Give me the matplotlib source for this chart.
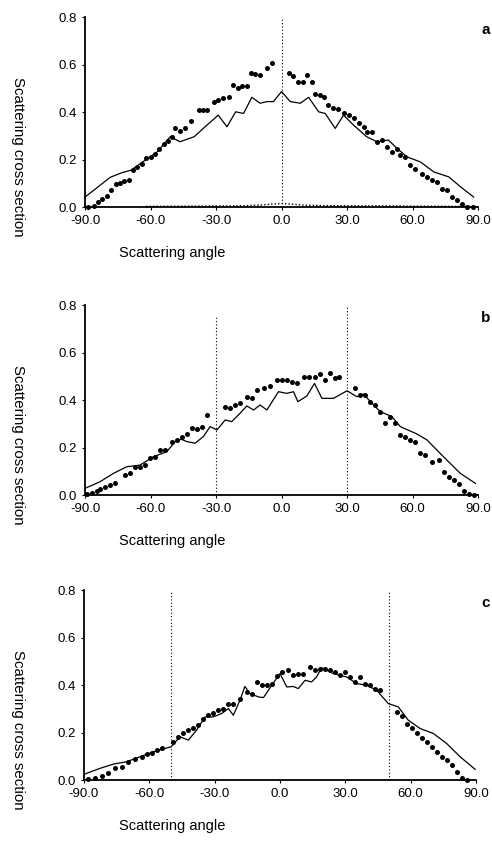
import numpy as np
import matplotlib
matplotlib.use("Agg")
import matplotlib.pyplot as plt

plt.rcParams['font.family'] = ['Liberation Sans', 'DejaVu Sans']

# panel a : calculated curve (solid) and measured points
a_line_x = [-90, -84, -78.5, -73, -69, -62, -57, -51, -46.5, -40, -35, -29, -25, -21, -17.4,
            -13.6, -9.8, -6.7, -3.7, 0, 4, 8.6, 12.4, 17, 20, 24.6, 28.4, 33, 39, 43.7, 49, 53,
            57.5, 63.6, 69.7, 76.6, 82, 88]
a_line_y = [0.042, 0.085, 0.125, 0.145, 0.155, 0.20, 0.232, 0.296, 0.275, 0.296, 0.338, 0.387,
            0.338, 0.401, 0.394, 0.462, 0.437, 0.444, 0.444, 0.486, 0.444, 0.437, 0.462, 0.401,
            0.394, 0.331, 0.387, 0.345, 0.296, 0.275, 0.282, 0.246, 0.211, 0.19, 0.148, 0.127,
            0.085, 0.042]
a_dot_x = [-88.5, -86, -84, -82, -80, -78, -76, -74, -72, -70, -68, -66, -64, -62, -60, -58,
           -56, -54, -52, -50, -48.7, -46.4, -44.2, -41.5, -38, -36, -34, -31, -29, -26.6,
           -24, -22, -20, -18, -16, -14, -12, -10, -6.7, -4.4,
           3.2, 5.2, 7.5, 9.8, 11.6, 13.9, 15.4, 17.4, 19.3, 21.5, 23.8, 26, 28.4, 30.7, 33,
           35.3, 37.6, 39.1, 41.4, 43.7, 46, 48.3, 50.6, 52.9, 54.4, 56.7, 59, 61.3, 64.3,
           66.6, 68.9, 71.2, 73.5, 75.8, 78.1, 80.4, 82.7, 85, 87.5]
a_dot_y = [0.0, 0.005, 0.02, 0.035, 0.045, 0.07, 0.095, 0.10, 0.11, 0.115, 0.155, 0.17, 0.18,
           0.205, 0.21, 0.225, 0.245, 0.265, 0.28, 0.295, 0.334, 0.321, 0.331, 0.363, 0.408,
           0.41, 0.41, 0.444, 0.45, 0.458, 0.462, 0.514, 0.50, 0.51, 0.51, 0.566, 0.56, 0.556,
           0.585, 0.608,
           0.566, 0.55, 0.528, 0.528, 0.556, 0.528, 0.475, 0.472, 0.465, 0.43, 0.415, 0.411,
           0.394, 0.387, 0.373, 0.352, 0.338, 0.317, 0.317, 0.275, 0.282, 0.254, 0.232, 0.246,
           0.218, 0.211, 0.176, 0.162, 0.141, 0.127, 0.113, 0.106, 0.077, 0.07, 0.042, 0.028,
           0.011, 0.0, 0.0]
# weak background curve near zero in panel a
a_base_x = [-62, -40, -20, -10, -5, 0, 5, 10, 20, 40, 60, 80, 88]
a_base_y = [0.003, 0.004, 0.005, 0.008, 0.012, 0.015, 0.012, 0.008, 0.006, 0.005, 0.004, 0.003, 0.002]

# panel b
b_line_x = [-90, -83.1, -77, -70.9, -64.8, -58.7, -52.6, -48, -45.7, -43.4, -39.6, -35.8, -32.7,
            -29.6, -25.8, -22.8, -19, -15.9, -12.8, -9.8, -6.7, -1.4, 2.4, 5.5, 7.5, 11.6, 15.1,
            18.5, 23.8, 30, 34.5, 37.6, 40.7, 45.2, 50.6, 54.4, 62, 66.6, 74.2, 81.9, 88.8]
b_line_y = [0.028, 0.056, 0.091, 0.119, 0.126, 0.161, 0.182, 0.232, 0.234, 0.225, 0.218, 0.246,
            0.288, 0.274, 0.316, 0.309, 0.344, 0.375, 0.358, 0.379, 0.358, 0.435, 0.428, 0.435,
            0.393, 0.417, 0.47, 0.407, 0.407, 0.439, 0.414, 0.425, 0.393, 0.351, 0.33, 0.288,
            0.257, 0.232, 0.161, 0.091, 0.049]
b_dot_x = [-89.2, -87, -84.7, -83.1, -80.8, -78.5, -76.2, -71.7, -69.4, -67, -64.8, -62.5, -60.2,
           -57.9, -55.6, -53.3, -50.3, -48, -45.7, -43.4, -41.1, -38.8, -36.5, -34.2, -25.8,
           -23.5, -21.2, -19, -15.9, -13.6, -11.3, -8.2, -5.2, -2.1, 0.2, 2.4, 4.7, 7, 10.1,
           12.4, 15.4, 17.7, 20, 22.3, 24.6, 26.1, 33.7, 36, 38.3, 40.7, 43, 45.2, 47.5, 49.8,
           52.1, 54.4, 56.7, 59, 61.3, 63.6, 65.9, 68.9, 72, 74.2, 76.5, 78.8, 81.1, 83.4,
           85.7, 88]
b_dot_y = [0.004, 0.01, 0.018, 0.024, 0.032, 0.042, 0.052, 0.084, 0.094, 0.119, 0.119, 0.126,
           0.154, 0.161, 0.189, 0.189, 0.225, 0.232, 0.246, 0.257, 0.281, 0.276, 0.288, 0.337,
           0.372, 0.365, 0.379, 0.386, 0.414, 0.407, 0.442, 0.449, 0.459, 0.484, 0.484, 0.484,
           0.477, 0.47, 0.498, 0.495, 0.498, 0.509, 0.484, 0.515, 0.491, 0.495, 0.449, 0.421,
           0.421, 0.393, 0.379, 0.351, 0.302, 0.33, 0.302, 0.253, 0.246, 0.232, 0.225, 0.178,
           0.168, 0.14, 0.147, 0.098, 0.077, 0.063, 0.046, 0.018, 0.004, 0.0]

# panel c
c_line_x = [-90, -82.7, -76.5, -70.4, -64.3, -58.2, -50, -45.9, -42.1, -38.3, -34.4, -30.6,
            -26.8, -23.7, -21.4, -18.4, -16.1, -13.8, -9.9, -7.6, -3.8, 0, 3.1, 6.1, 8.4, 11.5,
            14.5, 16.8, 19.1, 24.5, 30.6, 35.2, 39.8, 44.4, 49.7, 54.3, 58.9, 64.3, 70.4, 76.5,
            82.7, 89.6]
c_line_y = [0.024, 0.049, 0.067, 0.077, 0.098, 0.119, 0.14, 0.182, 0.168, 0.21, 0.266, 0.266,
            0.28, 0.301, 0.273, 0.336, 0.394, 0.364, 0.35, 0.347, 0.399, 0.448, 0.392, 0.394,
            0.385, 0.42, 0.413, 0.434, 0.473, 0.448, 0.434, 0.406, 0.399, 0.378, 0.322, 0.308,
            0.252, 0.217, 0.196, 0.154, 0.098, 0.045]
c_dot_x = [-88, -85, -81.9, -78.8, -75.8, -72.7, -69.6, -66.6, -63.5, -61.2, -58.9, -56.6, -54.3,
           -49, -46.7, -44.4, -42.1, -39.8, -37.5, -35.2, -32.9, -30.6, -28.3, -26, -23.7, -21.4,
           -18.4, -15.3, -12.9, -10.7, -8.4, -6.1, -3.8, -1.5, 0.8, 3.8, 6.1, 8.4, 10.7, 13.8,
           16.1, 18.4, 20.7, 23, 25.3, 27.6, 29.9, 32.1, 34.4, 36.7, 39, 41.3, 43.6, 45.9,
           53.6, 55.9, 58.2, 60.5, 62.8, 65.1, 67.4, 69.7, 72, 74.3, 76.6, 78.9, 81.2, 83.5, 86]
c_dot_y = [0.004, 0.007, 0.017, 0.028, 0.049, 0.056, 0.077, 0.087, 0.098, 0.109, 0.115, 0.126,
           0.133, 0.161, 0.182, 0.196, 0.21, 0.217, 0.231, 0.259, 0.273, 0.283, 0.294, 0.301,
           0.322, 0.319, 0.343, 0.371, 0.364, 0.413, 0.399, 0.399, 0.403, 0.436, 0.455, 0.462,
           0.441, 0.448, 0.448, 0.478, 0.462, 0.469, 0.469, 0.462, 0.455, 0.441, 0.455, 0.434,
           0.413, 0.434, 0.406, 0.399, 0.385, 0.378, 0.287, 0.269, 0.238, 0.217, 0.196, 0.175,
           0.161, 0.14, 0.119, 0.098, 0.084, 0.063, 0.035, 0.007, 0.0]

# dotted markers (angle, top of the line)
a_vlines = [(0, 0.8)]
b_vlines = [(-30, 0.754), (30, 0.796)]
c_vlines = [(-50, 0.795), (50, 0.795)]

x_ticks = [-90, -60, -30, 0, 30, 60, 90]
x_ticklabels = ['-90.0', '-60.0', '-30.0', '0.0', '30.0', '60.0', '90.0']
y_ticks = [0.0, 0.2, 0.4, 0.6, 0.8]

fig = plt.figure(figsize=(4.92, 8.44), dpi=100)

panels = [
    ('a', [0.1728, 0.7547, 0.7988, 0.2251], a_line_x, a_line_y, a_dot_x, a_dot_y, a_vlines),
    ('b', [0.1728, 0.4135, 0.7988, 0.2251], b_line_x, b_line_y, b_dot_x, b_dot_y, b_vlines),
    ('c', [0.1707, 0.0758, 0.7968, 0.2251], c_line_x, c_line_y, c_dot_x, c_dot_y, c_vlines),
]

for letter, rect, lx, ly, dx, dy, vlines in panels:
    ax = fig.add_axes(rect)
    ax.plot(lx, ly, color='black', lw=0.9, solid_joinstyle='round')
    ax.plot(dx, dy, 'o', color='black', ms=3.6, mec='none', clip_on=False)
    for vx, top in vlines:
        ax.plot([vx, vx], [0, top], color='black', lw=0.8, ls=(0, (1, 2)))
    if letter == 'a':
        ax.plot(a_base_x, a_base_y, color='black', lw=1.0, ls=(0, (1, 1.5)))

    ax.set_xlim(-90, 90)
    ax.set_ylim(0, 0.8)
    ax.set_xticks(x_ticks)
    ax.set_xticklabels(x_ticklabels)
    ax.set_yticks(y_ticks)
    ax.set_yticklabels(['%.1f' % t for t in y_ticks])
    ax.tick_params(length=2, width=0.8, labelsize=9.5, pad=4)
    for s in ['top', 'right']:
        ax.spines[s].set_visible(False)
    for s in ['left', 'bottom']:
        ax.spines[s].set_linewidth(1.3)

    b = rect[1]
    fig.text(0.037, b + rect[3] / 2 - 45 / 844, 'Scattering cross section', rotation=270,
             ha='center', va='center', fontsize=10.8)
    fig.text(172 / 492, b - 46 / 844, 'Scattering angle', ha='center', va='center', fontsize=10.5)
    fig.text(0.987, b + rect[3] - 13 / 844, letter, ha='center', va='center',
             fontsize=11, fontweight='bold')

fig.savefig('out.png', dpi=100)
